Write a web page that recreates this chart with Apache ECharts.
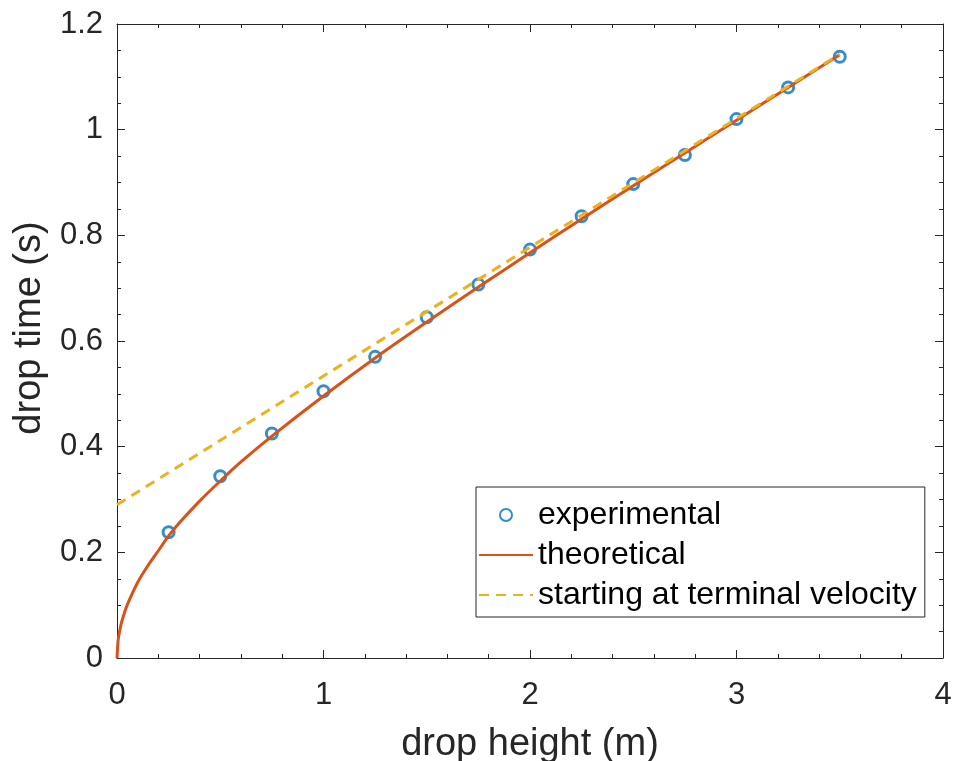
<!DOCTYPE html>
<html>
<head>
<meta charset="utf-8">
<script src="https://cdn.jsdelivr.net/npm/echarts@6/dist/echarts.min.js"></script>
<style>
  html, body { margin: 0; padding: 0; background: #fff; }
  #chart { width: 953px; height: 761px; }
</style>
</head>
<body>
<div id="chart"></div>
<script>
// experimental drop times
const expHeights = [0.25, 0.5, 0.75, 1.0, 1.25, 1.5, 1.75, 2.0, 2.25, 2.5, 2.75, 3.0, 3.25, 3.5];
const expTimes = [0.238, 0.344, 0.425, 0.505, 0.570, 0.645, 0.707, 0.773, 0.836, 0.897, 0.952, 1.020, 1.080, 1.138];

// theoretical curve
const theoHeights = [0, 0.005, 0.01, 0.02, 0.03, 0.05, 0.1, 0.15, 0.2, 0.25, 0.3, 0.4, 0.5, 0.6, 0.75,
  1.0, 1.25, 1.5, 1.75, 2.0, 2.25, 2.5, 2.75, 3.0, 3.25, 3.5];
const theoTimes = [0, 0.032, 0.045, 0.064, 0.078, 0.101, 0.143, 0.175, 0.203, 0.231, 0.255, 0.297, 0.335, 0.371, 0.420,
  0.496, 0.568, 0.636, 0.702, 0.767, 0.831, 0.894, 0.956, 1.018, 1.080, 1.142];

// terminal-velocity line (dashed yellow)
const termHeights = [0, 3.5];
const termTimes = [0.290, 1.143];

const xTicks = { min: 0, max: 4, interval: 1 };
const yTicks = { min: 0, max: 1.2, interval: 0.2 };

const axisColor = "#262626";
const font = "Liberation Sans, Arial, sans-serif";

function zip(xs, ys) {
  return xs.map((x, i) => [x, ys[i]]);
}

function boxAxis(base, extra) {
  return Object.assign({
    type: "value",
    min: base.min,
    max: base.max,
    interval: base.interval,
    axisLine: { show: true, onZero: false, lineStyle: { color: axisColor, width: 1 } },
    axisTick: { show: true, inside: true, length: 8, lineStyle: { color: axisColor } },
    splitLine: { show: false },
    axisLabel: { show: false },
  }, extra);
}

const chart = echarts.init(document.getElementById("chart"));

const options = {
  animation: false,
  backgroundColor: "#fff",
  grid: { left: 117, right: 10, top: 24, bottom: 103, outerBoundsMode: "none" },
  xAxis: [
    boxAxis(xTicks, {
      position: "bottom",
      name: "drop height (m)",
      nameLocation: "middle",
      nameGap: 68,
      nameTextStyle: { color: axisColor, fontSize: 38, fontFamily: font },
      minorTick: { show: true, splitNumber: 5, length: 4, lineStyle: { color: axisColor } },
      axisLabel: { show: true, color: axisColor, fontSize: 31, fontFamily: font, margin: 22 },
    }),
    boxAxis(xTicks, {
      position: "top",
      minorTick: { show: true, splitNumber: 5, length: 4, lineStyle: { color: axisColor } },
    }),
  ],
  yAxis: [
    boxAxis(yTicks, {
      position: "left",
      name: "drop time (s)",
      nameLocation: "middle",
      nameGap: 66,
      // left padding nudges the rotated title upward
      nameTextStyle: { color: axisColor, fontSize: 38, fontFamily: font, padding: [0, 0, 0, 26] },
      minorTick: { show: true, splitNumber: 4, length: 4, lineStyle: { color: axisColor } },
      axisLabel: { show: true, color: axisColor, fontSize: 31, fontFamily: font, margin: 14 },
    }),
    boxAxis(yTicks, {
      position: "right",
      minorTick: { show: true, splitNumber: 4, length: 4, lineStyle: { color: axisColor } },
    }),
  ],
  legend: {
    orient: "vertical",
    left: 476,
    top: 487,
    padding: [12, 8, 6, 2],
    itemGap: 8,
    itemWidth: 54,
    itemHeight: 12,
    borderColor: axisColor,
    borderWidth: 1,
    backgroundColor: "#fff",
    textStyle: { color: "#000", fontSize: 32, fontFamily: font },
    data: [
      { name: "experimental" },
      { name: "theoretical", itemStyle: { opacity: 0 } },
      { name: "starting at terminal velocity", itemStyle: { opacity: 0 } },
    ],
  },
  series: [
    {
      name: "experimental",
      type: "scatter",
      symbol: "circle",
      symbolSize: 11,
      itemStyle: { color: "rgba(0,0,0,0)", borderColor: "#0072BD", borderWidth: 3 },
      data: zip(expHeights, expTimes),
    },
    {
      name: "theoretical",
      type: "line",
      symbol: "none",
      smooth: 0.3,
      color: "#D95319",
      lineStyle: { color: "#D95319", width: 3 },
      data: zip(theoHeights, theoTimes),
    },
    {
      name: "starting at terminal velocity",
      type: "line",
      symbol: "none",
      color: "#EDB120",
      lineStyle: { color: "#EDB120", width: 3, type: [10, 7] },
      data: zip(termHeights, termTimes),
    },
  ],
};

chart.setOption(options);
</script>
</body>
</html>
